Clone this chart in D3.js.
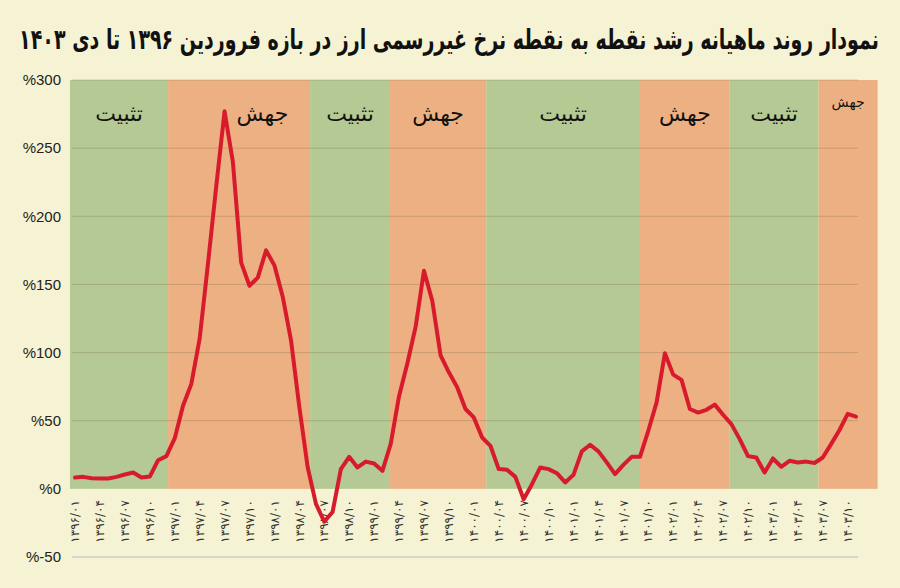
<!DOCTYPE html>
<html>
<head>
<meta charset="utf-8">
<script src="https://cdn.jsdelivr.net/npm/d3@7"></script>
<style>
body { margin: 0; background: #f5f3d3; }
</style>
</head>
<body>
<div id="chart"></div>
<script>
const title = "نمودار روند ماهیانه رشد نقطه به نقطه نرخ غیررسمی ارز در بازه فروردین ۱۳۹۶ تا دی ۱۴۰۳"

// monthly point-to-point growth (%), index 0 = 1396/01
const growth = [
    8.3, 8.8, 7.8, 7.6, 7.6, 8.8, 10.5, 12, 8.3, 9,
    21, 24, 37, 61, 77, 110, 165, 222, 277, 240,
    166, 149, 155, 175, 164, 141, 109, 60, 16, -11,
    -24, -17, 14.5, 23.5, 15.7, 20, 18.6, 13.2, 33, 68,
    92, 119, 160, 138, 98, 85.5, 74.5, 58.6, 52.4, 37.7,
    31.6, 14.5, 14, 8.8, -7.6, 3.4, 15.7, 14.5, 11.5, 4.7,
    10.3, 27.5, 32.4, 27.5, 19.4, 10.8, 17.6, 23.5, 23.5, 42.6,
    63.5, 99.5, 83.8, 80, 58.6, 56, 58, 61.8, 54.4, 47.5,
    36.5, 24, 23, 12, 22.3, 16.2, 20.6, 19.4, 20, 19,
    23, 32.8, 43, 55, 53
]

// one label every 3 months
const tickLabels = [
    "۱۳۹۶/۰۱", "۱۳۹۶/۰۴", "۱۳۹۶/۰۷", "۱۳۹۶/۱۰",
    "۱۳۹۷/۰۱", "۱۳۹۷/۰۴", "۱۳۹۷/۰۷", "۱۳۹۷/۱۰",
    "۱۳۹۸/۰۱", "۱۳۹۸/۰۴", "۱۳۹۸/۰۷", "۱۳۹۸/۱۰",
    "۱۳۹۹/۰۱", "۱۳۹۹/۰۴", "۱۳۹۹/۰۷", "۱۳۹۹/۱۰",
    "۱۴۰۰/۰۱", "۱۴۰۰/۰۴", "۱۴۰۰/۰۷", "۱۴۰۰/۱۰",
    "۱۴۰۱/۰۱", "۱۴۰۱/۰۴", "۱۴۰۱/۰۷", "۱۴۰۱/۱۰",
    "۱۴۰۲/۰۱", "۱۴۰۲/۰۴", "۱۴۰۲/۰۷", "۱۴۰۲/۱۰",
    "۱۴۰۳/۰۱", "۱۴۰۳/۰۴", "۱۴۰۳/۰۷", "۱۴۰۳/۱۰"
]

const yTicks = [-50, 0, 50, 100, 150, 200, 250, 300]

// regimes (stable / jump), edges in month index units
const regimeNames = ["تثبیت", "جهش", "تثبیت", "جهش", "تثبیت", "جهش", "تثبیت", "جهش"]
const regimeKinds = ["stable", "jump", "stable", "jump", "stable", "jump", "stable", "jump"]
const regimeEdges = [-0.6, 11.2, 28.3, 37.9, 49.5, 68.0, 78.8, 89.5, 96.6]

const width = 900
const height = 588

const svg = d3.select("#chart")
    .append("svg")
    .attr("width", width)
    .attr("height", height)

svg.append("rect")
    .attr("width", width)
    .attr("height", height)
    .attr("fill", "#f5f3d3")

const x = d3.scaleLinear()
    .domain([0, growth.length - 1])
    .range([75, 856])

const y = d3.scaleLinear()
    .domain([-50, 300])
    .range([557, 80])

const color = d3.scaleOrdinal()
    .domain(["stable", "jump"])
    .range(["#b4c994", "#edb083"])

// title: squeeze horizontally so it spans the page like the original
const titleText = svg.append("text")
    .attr("text-anchor", "middle")
    .attr("direction", "rtl")
    .style("font-family", "'DejaVu Sans Condensed', 'DejaVu Sans', sans-serif")
    .style("font-weight", "bold")
    .style("font-size", "28px")
    .style("fill", "#111")
    .text(title)

const titleWidth = titleText.node().getComputedTextLength()
const sx = Math.min(1, 860 / titleWidth)
titleText.attr("transform", `translate(449,49) scale(${sx},1)`)

// background bands
const regimes = regimeNames.map((name, i) => ({
    name: name,
    kind: regimeKinds[i],
    start: regimeEdges[i],
    end: regimeEdges[i + 1]
}))

svg.append("g")
    .selectAll("rect")
    .data(regimes)
    .enter().append("rect")
    .attr("x", d => x(d.start))
    .attr("y", y(300))
    .attr("width", d => x(d.end) - x(d.start))
    .attr("height", y(0) - y(300))
    .attr("fill", d => color(d.kind))

// grid
const gx0 = x.range()[0] - 3
const gx1 = x.range()[1] + 2

svg.append("g")
    .selectAll("line")
    .data(yTicks.filter(v => v > 0))
    .enter().append("line")
    .attr("x1", gx0)
    .attr("x2", gx1)
    .attr("y1", d => y(d))
    .attr("y2", d => y(d))
    .attr("stroke", "#7a6a4a")
    .attr("stroke-opacity", 0.3)
    .attr("stroke-width", 1)

svg.append("line")
    .attr("x1", gx0)
    .attr("x2", gx1)
    .attr("y1", y(-50))
    .attr("y2", y(-50))
    .attr("stroke", "#d6d6cc")
    .attr("stroke-width", 2)

// regime labels
const labelShift = { 1: 2.8 } // first jump label sits right of the peak

svg.append("g")
    .selectAll("text")
    .data(regimes)
    .enter().append("text")
    .attr("x", (d, i) => x((d.start + d.end) / 2 + (labelShift[i] || 0)))
    .attr("y", d => (x(d.end) - x(d.start) < 70 ? 107 : 121))
    .attr("text-anchor", "middle")
    .style("font-family", "'DejaVu Sans', sans-serif")
    .style("font-size", d => (x(d.end) - x(d.start) < 70 ? "14px" : "22px"))
    .style("fill", "#111")
    .text(d => d.name)

// y axis labels
svg.append("g")
    .selectAll("text")
    .data(yTicks)
    .enter().append("text")
    .attr("x", 61)
    .attr("y", d => y(d))
    .attr("dy", "0.35em")
    .attr("text-anchor", "end")
    .style("font-family", "'Liberation Sans', Arial, sans-serif")
    .style("font-size", "15px")
    .style("fill", "#222")
    .text(d => "%" + d)

// x axis labels, rotated
svg.append("g")
    .selectAll("text")
    .data(tickLabels)
    .enter().append("text")
    .attr("transform", (d, i) => `translate(${x(i * 3)},500) rotate(-90)`)
    .attr("dy", "0.35em")
    .attr("text-anchor", "end")
    .style("font-family", "'DejaVu Sans', sans-serif")
    .style("font-size", "12px")
    .style("fill", "#333")
    .text(d => d)

// growth line
const line = d3.line()
    .x((d, i) => x(i))
    .y(d => y(d))

svg.append("path")
    .datum(growth)
    .attr("fill", "none")
    .attr("stroke", "#d81b2c")
    .attr("stroke-width", 4)
    .attr("stroke-linejoin", "round")
    .attr("stroke-linecap", "round")
    .attr("d", line)
</script>
</body>
</html>
